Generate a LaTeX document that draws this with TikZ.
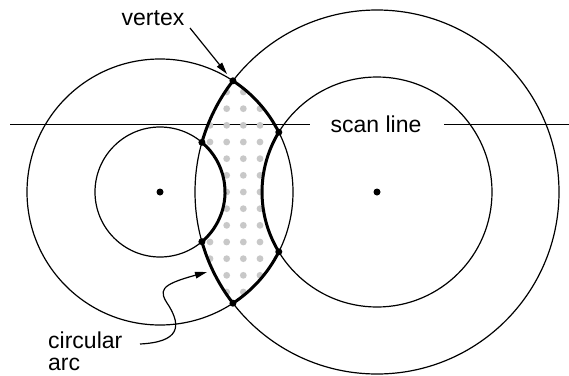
\documentclass[tikz,border=0pt]{standalone}
\usepackage{fontspec}
\setmainfont{Liberation Sans}
\usetikzlibrary{arrows.meta}
\definecolor{dotgray}{RGB}{200,200,200}
% outline of the lens-shaped region between the four circles
\newcommand\lensoutline{(v1) arc[start angle=-56.74, end angle=-26.72, radius=133]
  arc[start angle=211.34, end angle=148.66, radius=115]
  arc[start angle=26.72, end angle=56.74, radius=133]
  arc[start angle=142.34, end angle=164.16, radius=182]
  arc[start angle=49.85, end angle=-49.85, radius=65]
  arc[start angle=195.84, end angle=217.66, radius=182] -- cycle}
\begin{document}
\begin{tikzpicture}[x=1pt,y=-1pt,
  ring/.style={line width=1.2pt},
  bound/.style={line width=3pt, line join=round},
  vdot/.style={circle, fill=black, inner sep=0pt, minimum size=7pt},
  lbl/.style={font=\fontsize{23}{27}\selectfont, inner sep=0pt},
  pointer/.style={line width=1.2pt, -{Triangle[length=12pt,width=6.5pt]}},
]
\useasboundingbox (0,0) rectangle (569,375);
\fill[white] (0,0) rectangle (569,375);

% centres and intersection points
\coordinate (cl) at (160,192);
\coordinate (cr) at (377,192);
\coordinate (v1) at (232.94,80.8);
\coordinate (v2) at (278.79,132.2);
\coordinate (v3) at (278.79,251.8);
\coordinate (v4) at (232.94,303.2);
\coordinate (v5) at (201.91,142.31);
\coordinate (v6) at (201.91,241.69);

% circles
\draw[ring] (cl) circle[radius=65];
\draw[ring] (cl) circle[radius=133];
\draw[ring] (cr) circle[radius=115];
\draw[ring] (cr) circle[radius=182];

% scan line with its label
\node[lbl, anchor=base] (scan) at (376,132) {scan line};
\coordinate (sl1) at (10,124.7);
\coordinate (sl2) at (310,124.7);
\coordinate (sl3) at (444,124.7);
\coordinate (sl4) at (569,124.7);
\draw[ring] (sl1) -- (sl2);
\draw[ring] (sl3) -- (sl4);

% dotted fill of the region
\begin{scope}
  \clip \lensoutline;
  \foreach \i in {2,...,7}
    \foreach \j in {-7,...,7}
      \fill[dotgray] ({160+16.667*\i},{192+16.667*\j}) circle[radius=3.4];
\end{scope}

% region boundary
\draw[bound] \lensoutline;

% points
\foreach \k in {1,...,6} \node[vdot] (dv\k) at (v\k) {};
\node[vdot] (dcl) at (cl) {};
\node[vdot] (dcr) at (cr) {};

% labels and pointers
\node[lbl, anchor=base] (vlabel) at (153,25) {vertex};
\coordinate (vtail) at (190,28);
\coordinate (vtip) at (227,74);
\draw[pointer] (vtail) -- (vtip);

\node[lbl, anchor=base west] (arclbl1) at (48,348) {circular};
\node[lbl, anchor=base west] (arclbl2) at (48,370) {arc};
\coordinate (atail) at (140,344);
\coordinate (atip) at (207,272);
\draw[pointer] (atail) .. controls (180,342) and (181,326) .. (169,306)
  .. controls (158,290) and (160,285) .. (atip);
\end{tikzpicture}
\end{document}
